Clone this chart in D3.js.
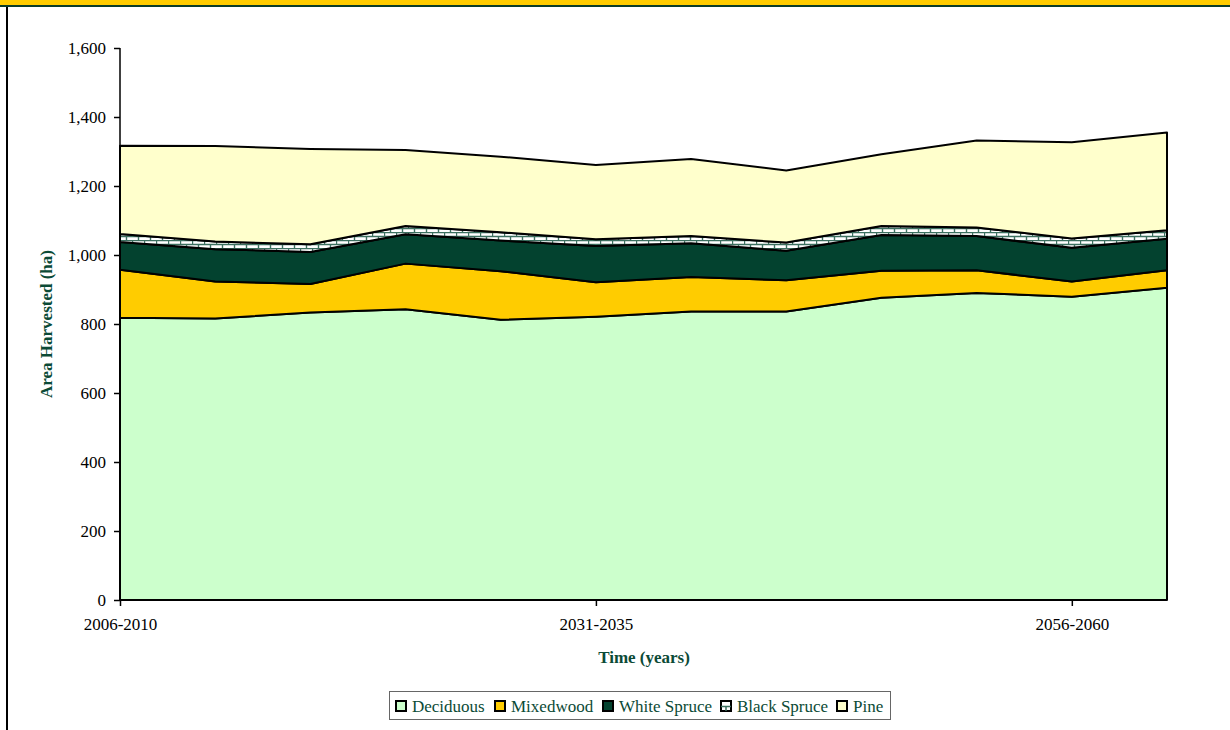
<!DOCTYPE html>
<meta charset="utf-8">
<style>
body {
  margin: 0;
  background: #fff;
}
text {
  font-family: "Liberation Serif", "Times New Roman", serif;
}
.axis path, .axis line {
  stroke: #000;
  stroke-width: 1.5px;
}
.axis text {
  font-size: 17px;
  fill: #000;
}
.title {
  font-size: 17px;
  font-weight: bold;
  fill: #0b4a36;
}
.legend text {
  font-size: 17px;
  fill: #0b4a36;
}
</style>
<body>
<script src="https://d3js.org/d3.v7.min.js"></script>
<script>

var width = 1230,
    height = 730;

// data (ha harvested per period)
var periods = ["2006-2010", "2011-2015", "2016-2020", "2021-2025", "2026-2030", "2031-2035",
               "2036-2040", "2041-2045", "2046-2050", "2051-2055", "2056-2060", "2061-2065"];
var tickLabels = ["2006-2010", "2031-2035", "2056-2060"];
var series = ["Deciduous", "Mixedwood", "White Spruce", "Black Spruce", "Pine"];
var deciduous   = [818, 816, 833, 843, 812, 821, 836, 836, 876, 890, 879, 905];
var mixedwood   = [139, 107, 83, 132, 141, 100, 100, 91, 78, 66, 44, 51];
var whiteSpruce = [81, 94, 93, 85, 89, 105, 98, 85, 104, 99, 98, 91];
var blackSpruce = [23, 22, 22, 24, 24, 20, 21, 24, 26, 25, 27, 25];
var pine        = [256, 277, 276, 220, 219, 215, 223, 209, 208, 252, 279, 283];

var fills = ["#ccffcc", "#ffcc00", "#03422f", "url(#brick)", "#ffffcc"];

var rows = periods.map(function(p, i) {
  return {
    period: p,
    "Deciduous": deciduous[i],
    "Mixedwood": mixedwood[i],
    "White Spruce": whiteSpruce[i],
    "Black Spruce": blackSpruce[i],
    "Pine": pine[i]
  };
});

var svg = d3.select("body").append("svg")
    .attr("width", width)
    .attr("height", height);

// brick pattern for black spruce
var pat = svg.append("defs").append("pattern")
    .attr("id", "brick")
    .attr("patternUnits", "userSpaceOnUse")
    .attr("width", 12)
    .attr("height", 8);
pat.append("rect").attr("width", 12).attr("height", 8).attr("fill", "#fff");
pat.append("path")
    .attr("d", "M0,0.5H12M0,4.5H12M0.5,0V4.5M6.5,4.5V8")
    .attr("stroke", "#3c7060")
    .attr("stroke-width", 1.4)
    .attr("fill", "none");

// frame decoration
svg.append("rect").attr("x", 0).attr("y", 0).attr("width", width).attr("height", 5).attr("fill", "#ffcc00");
svg.append("rect").attr("x", 0).attr("y", 5).attr("width", width).attr("height", 2).attr("fill", "#0b3d2a");
svg.append("rect").attr("x", 6).attr("y", 7).attr("width", 2).attr("height", height - 7).attr("fill", "#000");

var x = d3.scalePoint()
    .domain(periods)
    .range([120, 1167]);

var y = d3.scaleLinear()
    .domain([0, 1600])
    .range([600, 48]);

var stack = d3.stack().keys(series);
var layers = stack(rows);

var area = d3.area()
    .x(function(d) { return x(d.data.period); })
    .y0(function(d) { return y(d[0]); })
    .y1(function(d) { return y(d[1]); });

svg.selectAll(".layer")
    .data(layers)
  .enter().append("path")
    .attr("class", "layer")
    .attr("d", area)
    .attr("fill", function(d, i) { return fills[i]; })
    .attr("stroke", "#000")
    .attr("stroke-width", 2)
    .attr("stroke-linejoin", "round");

// axes
svg.append("g")
    .attr("class", "axis")
    .attr("transform", "translate(120,0)")
    .call(d3.axisLeft(y).tickValues(d3.range(0, 1601, 200)).tickFormat(d3.format(",")).tickSize(6).tickPadding(8))
    .attr("font-family", "Liberation Serif, serif")
    .attr("font-size", 17)
    .call(function(g) { g.select(".domain").attr("d", "M0,48V600"); });

svg.append("g")
    .attr("class", "axis")
    .attr("transform", "translate(0,600)")
    .call(d3.axisBottom(x).tickValues(tickLabels).tickSize(6).tickPadding(12))
    .attr("font-family", "Liberation Serif, serif")
    .attr("font-size", 17)
    .call(function(g) { g.select(".domain").attr("d", "M120,0H1167"); });

svg.append("text")
    .attr("class", "title")
    .attr("x", 644)
    .attr("y", 663)
    .attr("text-anchor", "middle")
    .text("Time (years)");

svg.append("text")
    .attr("class", "title")
    .attr("transform", "translate(52,324) rotate(-90)")
    .attr("text-anchor", "middle")
    .text("Area Harvested (ha)");

// legend
var legend = svg.append("g").attr("class", "legend");
legend.append("rect")
    .attr("x", 389.5).attr("y", 691.5)
    .attr("width", 501).attr("height", 28)
    .attr("fill", "#fff")
    .attr("stroke", "#666")
    .attr("stroke-width", 1);

var swatchX = [395, 494, 602, 720, 836];
var item = legend.selectAll(".item")
    .data(series)
  .enter().append("g")
    .attr("class", "item")
    .attr("transform", function(d, i) { return "translate(" + swatchX[i] + ",700)"; });

item.append("rect")
    .attr("x", 1).attr("y", 1)
    .attr("width", 10).attr("height", 10)
    .attr("fill", function(d, i) { return i === 3 ? "#fff" : fills[i]; })
    .attr("stroke", "#000")
    .attr("stroke-width", 2);

item.filter(function(d, i) { return i === 3; }).append("path")
    .attr("d", "M1,6.5H11M6,6.5V11")
    .attr("stroke", "#3c7060")
    .attr("stroke-width", 1.5);

item.append("text")
    .attr("x", 17)
    .attr("y", 12)
    .text(function(d) { return d; });

</script>
